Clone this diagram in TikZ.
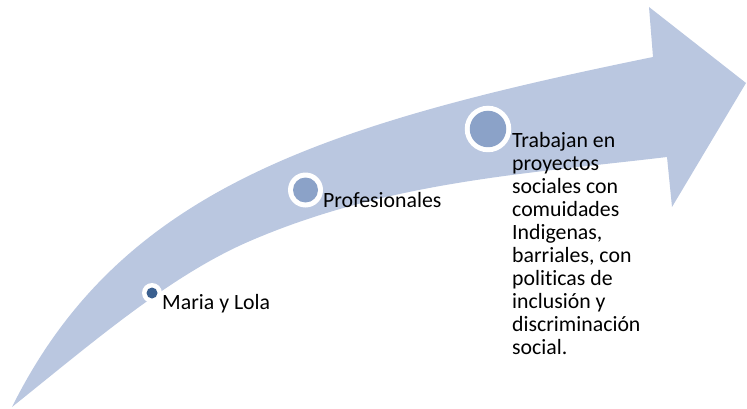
\documentclass[tikz,border=0pt]{standalone}
\usepackage{fontspec}
\setmainfont{Carlito}[Ligatures=NoCommon]
\definecolor{arrowblue}{RGB}{186,199,224}
\definecolor{midblue}{RGB}{139,162,200}
\definecolor{darkblue}{RGB}{58,95,143}
\begin{document}
\begin{tikzpicture}[x=1pt,y=-1pt,
  lbl/.style={anchor=base west,inner sep=0pt,text=black,font=\fontsize{21.8}{23.1}\selectfont},
  ring/.style={circle,fill=white,inner sep=0pt}]
\useasboundingbox (0,0) rectangle (747,409);
% arrow
\fill[arrowblue] (12,407) .. controls (120,190) and (320,125) .. (653,57)
  -- (649,7) -- (746,83) -- (672,207) -- (667,157)
  .. controls (528,173.7) and (389,181.2) .. (250,241)
  .. controls (170,275.4) and (92,343) .. (12,407) -- cycle;
% markers
\node[ring,minimum size=20pt] (r1) at (152,293) {};
\node[circle,fill=darkblue,inner sep=0pt,minimum size=11pt] (c1) at (r1) {};
\node[ring,minimum size=35pt] (r2) at (305.5,190) {};
\node[circle,fill=midblue,inner sep=0pt,minimum size=25pt] (c2) at (r2) {};
\node[ring,minimum size=46.5pt] (r3) at (488,129) {};
\node[circle,fill=midblue,inner sep=0pt,minimum size=36.5pt] (c3) at (r3) {};
% labels
\node[lbl] (t1) at (162,309) {Maria y Lola};
\node[lbl] (t2) at (323,207) {Profesionales};
\node[lbl] (t3) at (512,147) {\begin{tabular}[t]{@{}l@{}}Trabajan en\\ proyectos\\ sociales con\\ comuidades\\ Indigenas,\\ barriales, con\\ politicas de\\ inclusión y\\ discriminación\\ social.\end{tabular}};
\end{tikzpicture}
\end{document}
